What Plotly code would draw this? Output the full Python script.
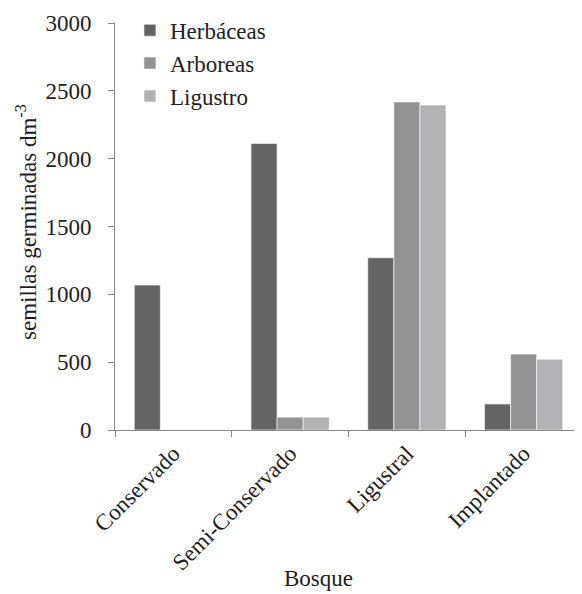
import plotly.graph_objects as go

categories = ["Conservado", "Semi-Conservado", "Ligustral", "Implantado"]
herbaceas = [1068, 2112, 1270, 192]
arboreas = [0, 95, 2418, 560]
ligustro = [0, 95, 2395, 522]
series_names = ["Herbáceas", "Arboreas", "Ligustro"]
colors = ["#646464", "#939393", "#b2b2b4"]
y_ticks = [0, 500, 1000, 1500, 2000, 2500, 3000]

fig = go.Figure()
for name, vals, col in zip(series_names, [herbaceas, arboreas, ligustro], colors):
    fig.add_trace(go.Bar(x=categories, y=vals, name=name,
                         marker=dict(color=col, line=dict(color="white", width=0.6))))

FS = 23
font = dict(family="Liberation Serif, Times New Roman, serif", size=FS, color="#1e1e1e")
# page body has an 8px margin: figure is offset by 8px
fig.update_layout(
    width=574, height=586,
    margin=dict(l=107, r=0, t=15, b=164),
    paper_bgcolor="white", plot_bgcolor="white",
    font=font,
    barmode="group", bargap=0.33, bargroupgap=0,
    legend=dict(x=0.032, y=1.035, xanchor="left", yanchor="top",
                bgcolor="rgba(0,0,0,0)", font=dict(size=FS), tracegroupgap=0,
                itemwidth=30),
    showlegend=True,
    annotations=[
        dict(text="Bosque", xref="paper", yref="paper", x=(318 - 115) / 467,
             y=-(578 - 430) / 407, xanchor="center", yanchor="middle",
             showarrow=False, font=dict(size=FS)),
        dict(text="semillas germinadas dm<sup>-3</sup>", xref="paper", yref="paper",
             x=(26 - 115) / 467, y=(430 - 222) / 407, xanchor="center", yanchor="middle",
             textangle=-90, showarrow=False, font=dict(size=FS)),
    ],
)
fig.update_xaxes(
    showline=True, linecolor="#888888", linewidth=1,
    ticks="outside", tickson="boundaries", ticklen=6, tickcolor="#888888",
    tickangle=-45, showgrid=False, automargin=False,
)
fig.update_yaxes(
    range=[0, 3000], tickvals=y_ticks,
    showline=True, linecolor="#888888", linewidth=1,
    ticks="outside", ticklen=6, tickcolor="#888888",
    showgrid=False, zeroline=False, automargin=False,
    ticklabelstandoff=12,
)
fig.write_html("out.html")
